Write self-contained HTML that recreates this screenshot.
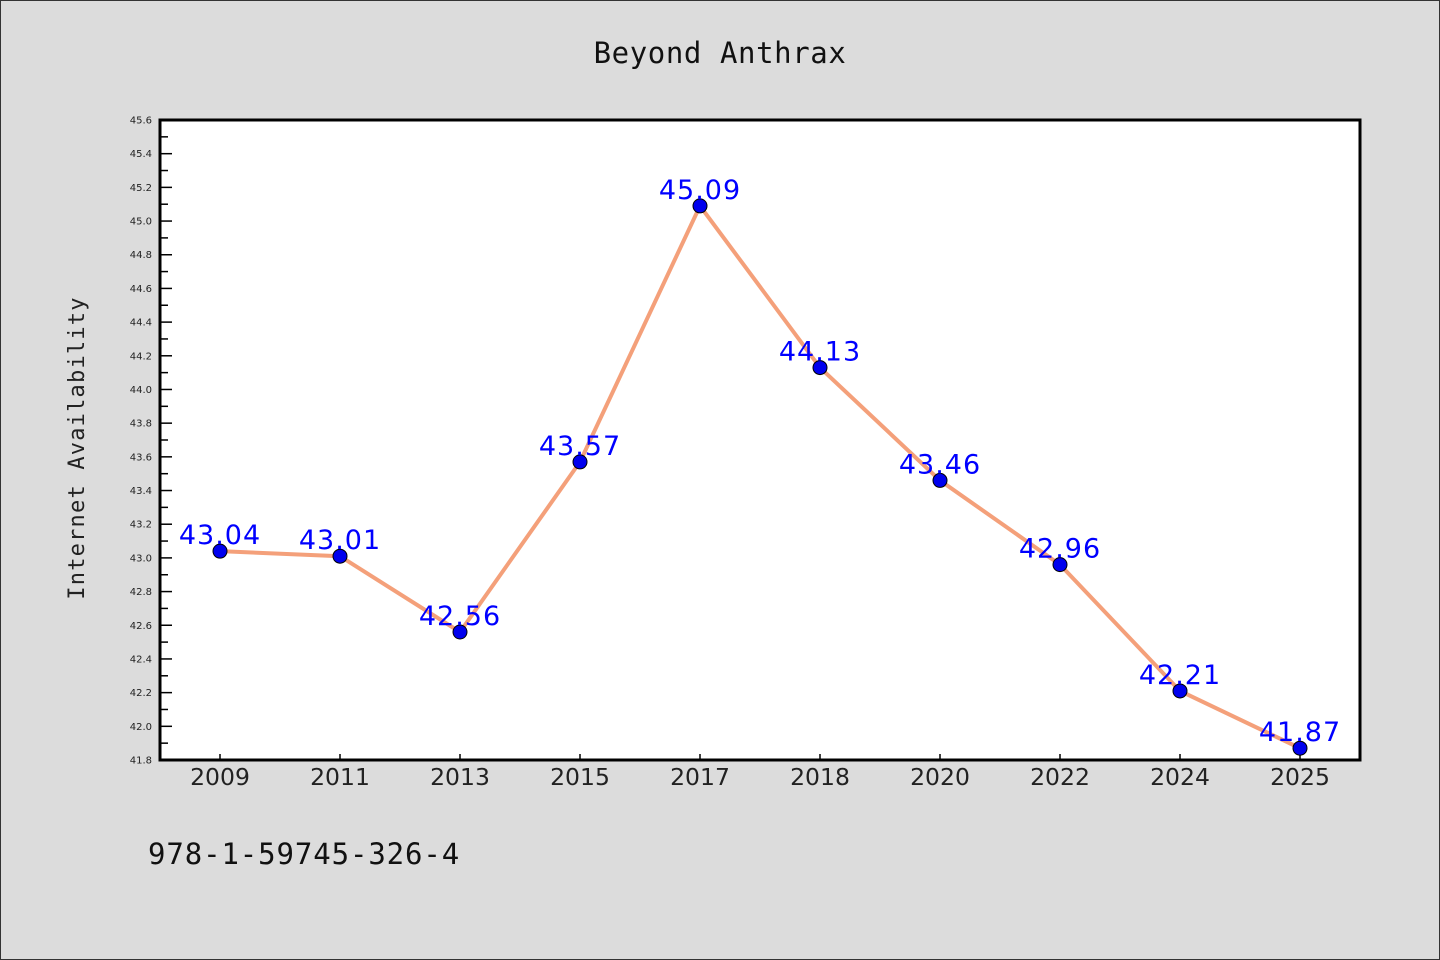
<!DOCTYPE html>
<html><head><meta charset="utf-8"><style>
body{margin:0;background:#dcdcdc;}
svg{display:block;}
</style></head><body>
<svg width="1440" height="960" xmlns="http://www.w3.org/2000/svg">
<rect x="0.5" y="0.5" width="1439" height="959" fill="#dcdcdc" stroke="#333"/>
<text x="720" y="63" text-anchor="middle" font-family="DejaVu Sans Mono, Liberation Mono, monospace" font-size="29" letter-spacing="0.6" fill="#111">Beyond Anthrax</text>
<rect x="160" y="120" width="1200" height="640" fill="#fff"/>
<g id="yaxis"></g>
<g id="xaxis"></g>
<g id="series"></g>
<rect x="160" y="120" width="1200" height="640" fill="none" stroke="#000" stroke-width="3"/>
<text transform="translate(84,448) rotate(-90)" text-anchor="middle" font-family="DejaVu Sans Mono, Liberation Mono, monospace" font-size="22" fill="#222" letter-spacing="1.2">Internet Availability</text>
<text x="148" y="864" font-family="DejaVu Sans Mono, Liberation Mono, monospace" font-size="29" letter-spacing="0.9" fill="#111">978-1-59745-326-4</text>
</svg>
<script>
const categories=["2009","2011","2013","2015","2017","2018","2020","2022","2024","2025"];
const values=[43.04,43.01,42.56,43.57,45.09,44.13,43.46,42.96,42.21,41.87];
const yMin=41.8,yMax=45.6;
const NS="http://www.w3.org/2000/svg";
const L=160,T=120,W=1200,H=640;
function xS(i){return L+W/categories.length*(i+0.5);}
function yS(v){return T+H-(v-yMin)/(yMax-yMin)*H;}
function mk(tag,attrs,parent){const e=document.createElementNS(NS,tag);for(const k in attrs)e.setAttribute(k,attrs[k]);parent.appendChild(e);return e;}
const ya=document.getElementById('yaxis'),xa=document.getElementById('xaxis'),sg=document.getElementById('series');
for(let k=0;k<=38;k++){
  const v=yMin+k*0.1,y=yS(v),major=k%2===0;
  const t=mk('line',{x1:L,x2:L+(major?12:8),y1:y,y2:y,stroke:'#000','stroke-width':1.5},ya);
  
  
  if(major){
    const lb=mk('text',{x:L-8,y:y+3.5,'text-anchor':'end','font-family':'DejaVu Sans, Liberation Sans, sans-serif','font-size':10,fill:'#222'},ya);
    lb.textContent=v.toFixed(1);
    
    
  }
}
categories.forEach((c,i)=>{
  const x=xS(i);
  const t=mk('line',{x1:x,x2:x,y1:T+H,y2:T+H-6,stroke:'#000','stroke-width':1.5},xa);
  
  
  const lb=mk('text',{x:x,y:785,'text-anchor':'middle','font-family':'DejaVu Sans, Liberation Sans, sans-serif','font-size':23.5,fill:'#222'},xa);
  lb.textContent=c;
  
  
});
const pl=mk('polyline',{points:values.map((v,i)=>xS(i)+','+yS(v)).join(' '),fill:'none',stroke:'#f4a07a','stroke-width':4},sg);


values.forEach((v,i)=>{
  const c=mk('circle',{cx:xS(i),cy:yS(v),r:7,fill:'#0000ee',stroke:'#000','stroke-width':1},sg);
  
  
  const lb=mk('text',{x:xS(i),y:yS(v)-7,'text-anchor':'middle','font-family':'DejaVu Sans, Liberation Sans, sans-serif','font-size':27,'letter-spacing':1,fill:'#0000ff'},sg);
  lb.textContent=v.toFixed(2);
  
  
});
</script>
</body></html>
